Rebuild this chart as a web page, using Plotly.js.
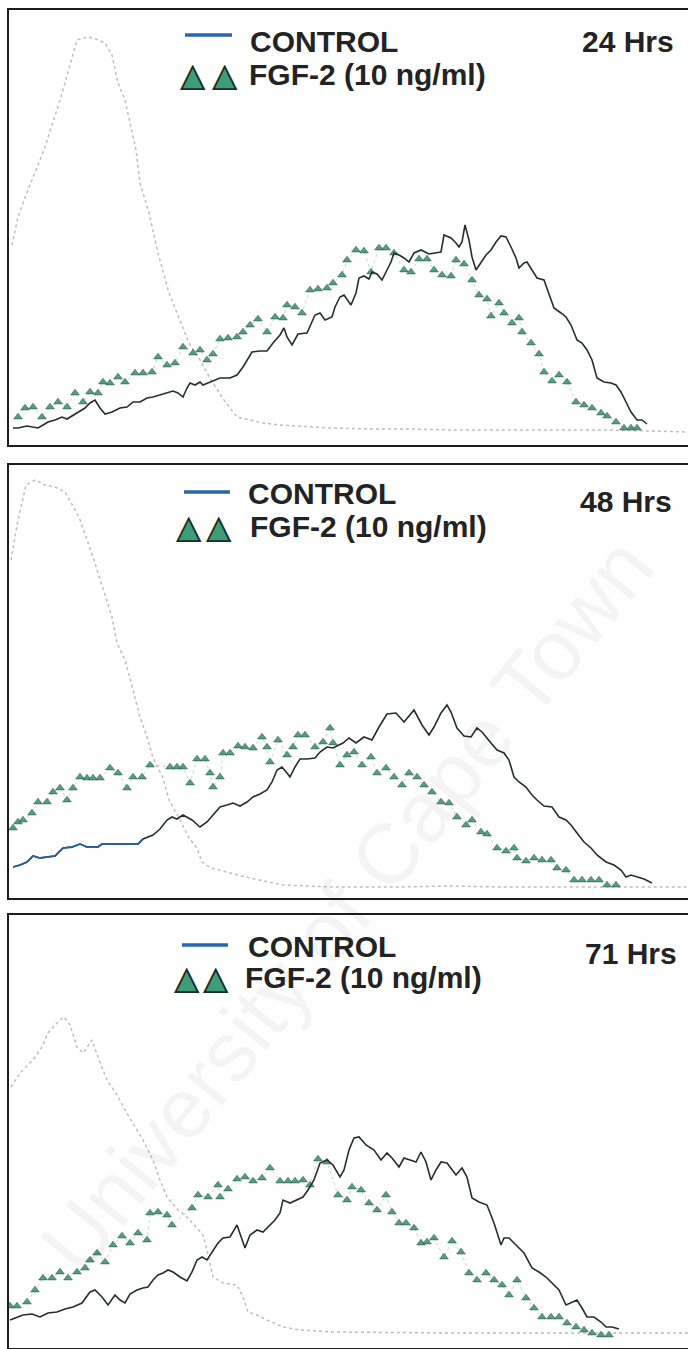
<!DOCTYPE html>
<html><head><meta charset="utf-8">
<script src="https://cdn.plot.ly/plotly-3.0.1.min.js"></script>
<style>html,body{margin:0;padding:0;background:#fff;overflow:hidden}#chart{width:688px;height:1349px}</style>
</head><body><div id="chart"></div>
<script>
// ---------- DATA (x = fluorescence channel, y = cell count) ----------
const seriesNames = ['CONTROL', 'FGF-2 (10 ng/ml)'];
const timeLabels = ['24 Hrs', '48 Hrs', '71 Hrs'];

// 24 h
const iso24X = [12,18,26,35,44,52,61,70,77,88,96,105,112,118,125,136,140,149,158,169,180,189,200,211,224,237,250,263,280,300,330,370,410,450,490,530,570,610,650,688];
const iso24Y = [200,228,250,272,295,320,348,380,405,408,406,402,390,362,345,295,262,232,192,152,125,102,85,65,45,28,25,22,20,19,17,16,16,15,15,15,15,15,14,13];
const ctl24X = [13,18,27,33,38,43,48,55,62,67,72,78,85,90,95,100,105,112,120,127,133,140,147,153,160,167,173,178,183,187,190,195,200,203,210,220,230,237,243,252,260,267,273,280,284,287,292,298,307,315,320,325,332,335,340,344,351,356,359,364,369,372,377,382,386,391,394,399,404,409,414,417,421,429,436,441,444,451,456,459,462,465,469,472,476,481,486,491,496,501,506,511,516,519,524,527,532,537,544,549,554,561,566,571,577,582,587,592,597,604,611,616,621,626,631,637,642,647];
const ctl24Y = [17,17,19,18,17,20,23,25,28,26,29,32,37,42,45,37,31,33,37,38,43,43,47,48,50,52,54,52,48,57,62,60,63,60,63,67,67,70,78,93,94,94,102,110,117,108,100,111,112,130,132,125,128,138,148,150,140,152,167,169,166,173,171,165,173,183,192,190,187,183,192,193,195,191,192,193,210,207,202,198,203,220,205,188,175,183,190,195,203,209,208,198,187,177,182,183,175,167,165,150,137,132,128,120,105,102,95,85,67,63,62,60,53,43,33,25,25,21];
const fgf24X = [18,25,33,42,50,58,67,75,83,90,98,103,110,118,125,135,143,152,158,167,175,183,193,200,207,213,220,228,237,243,250,258,267,275,283,287,295,302,310,318,327,333,342,347,356,364,371,379,386,394,404,411,419,427,434,442,451,456,464,472,479,487,491,499,504,512,519,522,531,539,544,552,559,567,576,584,592,601,607,616,624,631,637];
const fgf24Y = [28,37,38,28,38,43,38,52,43,53,52,63,62,68,63,72,72,73,88,80,82,98,92,95,85,91,106,107,108,113,120,126,113,128,127,140,138,132,155,156,157,162,170,185,195,194,173,197,197,192,175,173,186,186,175,170,169,185,181,165,150,146,129,142,132,122,127,113,102,91,73,64,70,63,43,40,37,32,29,23,17,17,17];

// 48 h
const iso48X = [11,18,26,35,45,55,65,79,94,112,117,125,133,140,148,153,163,169,180,189,197,202,211,232,250,283,333,400,450,500,550,600,650,688];
const iso48Y = [338,378,413,418,413,411,406,381,338,281,255,238,208,181,158,140,120,98,78,60,50,36,30,25,20,13,11,11,12,11,11,11,11,11];
const ctl48X = [13,20,27,33,40,47,55,63,72,80,87,98,102,113,127,138,143,153,160,167,172,177,183,192,200,207,213,220,227,233,240,247,253,260,267,272,277,282,287,290,295,300,307,315,320,327,333,343,349,356,364,372,379,387,396,404,414,422,429,434,441,447,451,457,464,471,477,482,491,497,504,509,514,519,526,532,537,544,552,559,566,571,577,584,591,597,606,614,621,626,631,637,644,652];
const ctl48Y = [31,33,36,42,40,41,42,50,51,54,51,51,54,54,54,54,59,63,69,78,81,79,83,78,71,76,83,91,93,95,92,96,101,104,108,116,128,131,125,121,131,139,139,140,146,151,150,155,160,155,161,158,171,184,185,176,188,173,163,171,185,193,186,170,162,161,170,166,155,148,145,138,121,116,111,103,98,92,91,81,78,73,65,56,50,43,36,33,28,21,23,21,19,15];
const fgf48X = [13,18,23,32,38,47,53,60,67,73,80,87,93,100,110,118,127,133,142,150,170,177,183,190,197,205,210,213,220,223,230,238,245,253,262,267,270,278,287,293,298,305,315,323,330,333,340,347,354,362,371,377,386,394,402,409,417,424,432,441,449,457,466,472,481,487,497,506,514,517,526,534,542,551,557,566,574,582,591,599,607,616];
const fgf48Y = [70,76,78,85,96,96,106,110,98,110,121,120,120,120,130,125,110,121,121,133,131,131,131,115,139,139,125,111,121,145,145,152,151,150,161,151,136,158,143,151,163,163,151,156,170,155,133,143,146,133,141,125,130,121,113,125,121,113,106,96,95,81,73,78,66,64,50,47,50,40,37,40,38,38,30,28,18,18,18,18,13,13];

// 71 h
const iso71X = [11,20,33,42,48,57,64,70,77,83,92,99,107,117,125,134,143,153,160,167,178,187,197,203,207,213,223,237,243,248,257,267,283,300,333,400,450,500,550,600,650,688];
const iso71Y = [261,275,288,301,315,325,331,323,301,295,308,288,268,253,238,223,208,188,168,151,138,131,120,113,98,71,65,63,51,36,33,28,21,18,16,15,15,15,15,15,15,15];
const ctl71X = [10,17,23,32,40,48,57,65,73,82,90,95,102,108,115,120,125,130,137,143,148,153,158,163,168,173,180,187,192,197,202,207,213,218,223,230,237,240,245,250,257,263,270,275,280,283,290,297,303,308,314,320,327,333,340,344,349,354,359,366,374,381,387,392,399,404,411,416,421,426,431,436,441,447,456,462,467,472,479,487,494,501,504,509,516,524,532,539,546,552,559,566,571,577,582,587,594,601,606,612,619];
const ctl71Y = [28,31,33,34,31,35,36,39,41,45,56,58,51,43,53,48,45,54,58,60,61,68,73,75,78,76,71,67,76,88,91,88,98,105,110,111,123,115,100,113,118,116,123,128,135,148,145,148,151,158,168,185,188,183,171,178,198,210,211,203,198,188,195,190,181,190,188,186,196,186,168,178,186,185,173,180,171,150,146,143,125,103,110,110,103,95,80,76,71,65,58,43,45,48,40,31,31,26,21,21,19];
const fgf71X = [10,17,27,35,43,52,60,68,77,85,90,97,105,113,122,130,138,147,150,158,167,172,192,198,208,218,220,228,237,245,253,262,270,280,288,295,303,310,318,327,338,347,352,361,369,377,386,392,399,406,414,421,427,434,444,452,461,469,477,486,494,502,509,517,526,534,542,551,559,567,576,584,592,601,609];
const fgf71Y = [42,42,46,58,70,70,76,70,76,80,88,95,86,103,112,105,115,108,135,136,133,123,140,153,151,163,151,159,169,171,167,170,180,167,167,167,168,163,189,186,153,148,161,158,145,138,153,136,125,125,120,105,106,110,91,107,96,75,68,75,68,63,53,68,50,40,31,31,31,25,21,18,15,13,13];

// ---------- LAYOUT ----------
const W = 688, H = 1349;
const px = x => x / W, py = y => 1 - y / H;

const panels = [
  {iso:[iso24X,iso24Y], ctl:[ctl24X,ctl24Y], fgf:[fgf24X,fgf24Y], top:10,  bottom:445, blueUpTo:null,
   ctlTxt:[248,42], fgfTxt:[247,75], hrs:[580,42], legLine:[185,232,35], tri:[[193,225],75]},
  {iso:[iso48X,iso48Y], ctl:[ctl48X,ctl48Y], fgf:[fgf48X,fgf48Y], top:465, bottom:898, blueUpTo:143,
   ctlTxt:[246,493], fgfTxt:[248,526], hrs:[578,501], legLine:[184,230,492], tri:[[189,219],526]},
  {iso:[iso71X,iso71Y], ctl:[ctl71X,ctl71Y], fgf:[fgf71X,fgf71Y], top:915, bottom:1348, blueUpTo:null,
   ctlTxt:[246,946], fgfTxt:[243,978], hrs:[583,953], legLine:[182,228,945], tri:[[187,216],978]}
];

const traces = [];
const layout = {
  width: W, height: H, margin: {l:0, r:0, t:0, b:0},
  paper_bgcolor: '#fff', plot_bgcolor: 'rgba(0,0,0,0)', showlegend: false,
  annotations: [], shapes: []
};
const txtFont = {family: 'Liberation Sans, Arial, sans-serif', size: 30, color: '#232323'};

// faint watermark (drawn first so it sits under the labels)
layout.annotations.push({xref:'paper', yref:'paper', x: px(346), y: py(905), xanchor:'center', yanchor:'middle',
  text: 'University of Cape Town', textangle: -51, showarrow: false,
  font: {family: 'Liberation Sans, Arial, sans-serif', size: 85, color: 'rgba(0,0,0,0.045)'}});

panels.forEach((p, i) => {
  const s = i === 0 ? '' : String(i + 1);
  const xa = 'x' + s, ya = 'y' + s;
  traces.push({x: p.iso[0], y: p.iso[1], xaxis: xa, yaxis: ya, mode: 'lines', hoverinfo: 'skip',
    line: {color: '#bdbdbd', width: 1.5, dash: 'dot'}});
  traces.push({x: p.fgf[0], y: p.fgf[1], xaxis: xa, yaxis: ya, mode: 'lines+markers', name: seriesNames[1], hoverinfo: 'skip',
    line: {color: '#b3cbc2', width: 0.8, dash: 'dot'},
    marker: {symbol: 'triangle-up', size: 7.5, color: '#539d82', line: {color: '#2e5d4d', width: 0.6}}});
  traces.push({x: p.ctl[0], y: p.ctl[1], xaxis: xa, yaxis: ya, mode: 'lines', name: seriesNames[0], hoverinfo: 'skip',
    line: {color: '#262e2c', width: 1.6}});
  if (p.blueUpTo !== null) {
    const bx = [], by = [];
    p.ctl[0].forEach((v, k) => { if (v <= p.blueUpTo) { bx.push(v); by.push(p.ctl[1][k]); } });
    traces.push({x: bx, y: by, xaxis: xa, yaxis: ya, mode: 'lines', hoverinfo: 'skip',
      line: {color: '#2d5f9e', width: 1.8}});
  }

  const axStyle = {showline: true, linecolor: '#1c1c1c', linewidth: 2, showgrid: false, zeroline: false,
    showticklabels: false, ticks: '', fixedrange: true};
  layout['xaxis' + s] = Object.assign({}, axStyle, {domain: [px(9), 1], range: [9, 688], anchor: ya, mirror: true});
  layout['yaxis' + s] = Object.assign({}, axStyle, {domain: [py(p.bottom), py(p.top)], range: [0, p.bottom - p.top], anchor: xa, mirror: false});

  // legend text
  layout.annotations.push({xref:'paper', yref:'paper', x: px(p.ctlTxt[0]), y: py(p.ctlTxt[1]), xanchor:'left', yanchor:'middle',
    text: '<b>' + seriesNames[0] + '</b>', showarrow: false, font: txtFont});
  layout.annotations.push({xref:'paper', yref:'paper', x: px(p.fgfTxt[0]), y: py(p.fgfTxt[1]), xanchor:'left', yanchor:'middle',
    text: '<b>' + seriesNames[1] + '</b>', showarrow: false, font: txtFont});
  layout.annotations.push({xref:'paper', yref:'paper', x: px(p.hrs[0]), y: py(p.hrs[1]), xanchor:'left', yanchor:'middle',
    text: '<b>' + timeLabels[i] + '</b>', showarrow: false, font: txtFont});
  // legend glyphs
  layout.shapes.push({type:'line', xref:'paper', yref:'paper', x0: px(p.legLine[0]), x1: px(p.legLine[1]),
    y0: py(p.legLine[2]), y1: py(p.legLine[2]), line: {color: '#2a66b0', width: 3.5}});
  p.tri[0].forEach(cx => {
    layout.annotations.push({xref:'paper', yref:'paper', x: px(cx), y: py(p.tri[1]), xanchor:'center', yanchor:'middle',
      text: '▲', showarrow: false, font: {family: 'DejaVu Sans', size: 33, color: '#3f9c78'}});
    layout.annotations.push({xref:'paper', yref:'paper', x: px(cx), y: py(p.tri[1]), xanchor:'center', yanchor:'middle',
      text: '△', showarrow: false, font: {family: 'DejaVu Sans', size: 33, color: '#1d2a25'}});
  });
});

Plotly.newPlot('chart', traces, layout, {staticPlot: true, displayModeBar: false});
</script>
</body></html>
